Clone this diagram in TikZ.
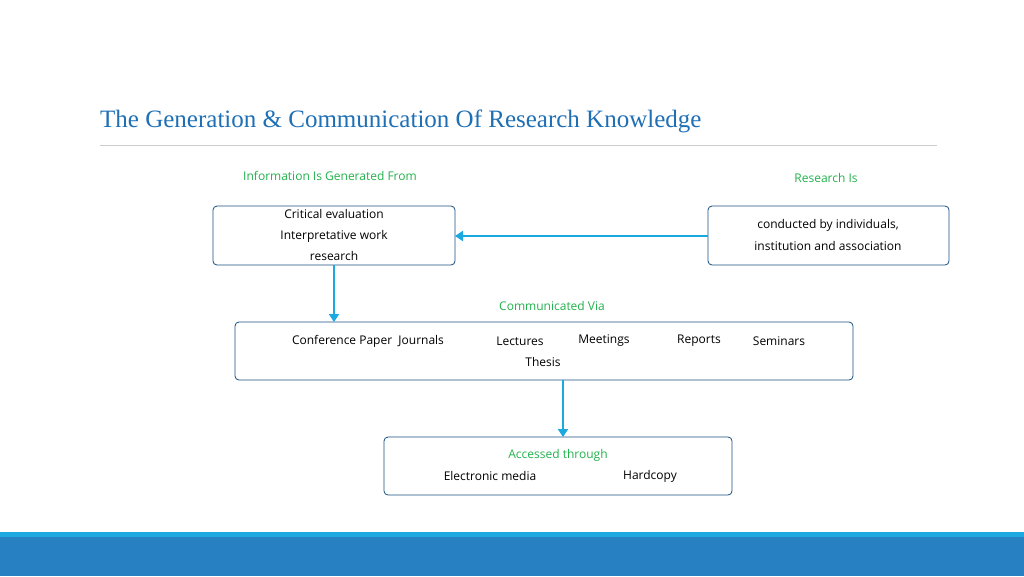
\documentclass[tikz,border=0pt]{standalone}
\usepackage{fontspec}
\setmainfont{Liberation Serif}
\newfontfamily\handfont{Open Sans}
\usetikzlibrary{arrows.meta}
\definecolor{titleblue}{HTML}{1F6FB5}
\definecolor{arrowblue}{HTML}{1CA9E0}
\definecolor{labelgreen}{HTML}{22B14C}
\definecolor{barlight}{HTML}{1FA9E1}
\definecolor{bardark}{HTML}{2680C2}
\tikzset{
		>=Stealth,
		infobox/.style={draw=titleblue!70!black, rounded corners=4pt, line width=0.8pt},
		txt/.style={font=\handfont\fontsize{12}{14}\selectfont, inner sep=0pt},
		grn/.style={txt, text=labelgreen},
		flow/.style={->, arrowblue, line width=2.5pt, >={Triangle[length=8pt,width=10pt]}}
	}
\begin{document}
\begin{tikzpicture}[x=1pt, y=-1pt]
		\useasboundingbox (0,0) rectangle (1024,576);
		% title and rule
		\node[anchor=west, inner sep=0pt, text=titleblue, font=\fontsize{25}{28}\selectfont] (title) at (100,121) {The Generation \& Communication Of Research Knowledge};
		\draw[black!20, line width=0.8pt] (100,145) -- (937,145);
		% boxes
		\draw[infobox] (213,206) rectangle (455,265);
		\draw[infobox] (708,206) rectangle (949,265);
		\draw[infobox] (235,322) rectangle (853,380);
		\draw[infobox] (384,437) rectangle (732,495);
		\coordinate (genR) at (455,236);
		\coordinate (genB) at (334,265);
		\coordinate (resL) at (708,236);
		\coordinate (comT) at (334,322);
		\coordinate (comB) at (563,380);
		\coordinate (accT) at (563,437);
		% labels
		\node[grn] (lblgen) at (330,176) {Information Is Generated From};
		\node[grn] (lblres) at (826,178) {Research Is};
		\node[grn] (lblcom) at (552,306) {Communicated Via};
		\node[txt, align=center, font=\handfont\fontsize{12}{21}\selectfont] (gen) at (334,235) {Critical evaluation\\Interpretative work\\research};
		\node[txt, align=center, font=\handfont\fontsize{12}{22}\selectfont] (res) at (828,235) {conducted by individuals,\\institution and association};
		\node[txt] (c1) at (368,341) {Conference Paper\ \ Journals};
		\node[txt] (c2) at (520,341) {Lectures};
		\node[txt] (c3) at (604,341) {Meetings};
		\node[txt] (c4) at (699,341) {Reports};
		\node[txt] (c5) at (779,341) {Seminars};
		\node[txt] (c6) at (543,362) {Thesis};
		\node[grn] (acc) at (558,455) {Accessed through};
		\node[txt] (a1) at (490,476) {Electronic media};
		\node[txt] (a2) at (650,476) {Hardcopy};
		% connectors
		\draw[flow] (resL) -- (genR);
		\draw[flow] (genB) -- (comT);
		\draw[flow] (comB) -- (accT);
		% footer bars
		\fill[barlight] (0,532) rectangle (1024,537);
		\fill[bardark] (0,537) rectangle (1024,576);
	\end{tikzpicture}
\end{document}
